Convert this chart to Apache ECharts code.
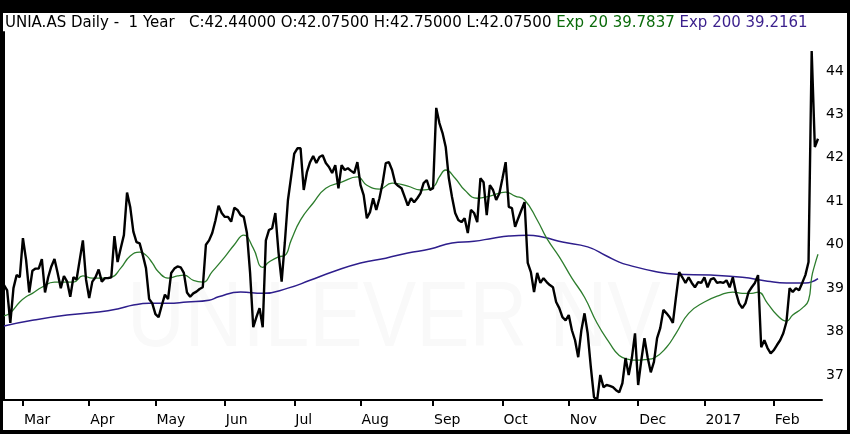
<!DOCTYPE html>
<html>
<head>
<meta charset="utf-8">
<script src="https://cdn.jsdelivr.net/npm/echarts@6/dist/echarts.min.js"></script>
<style>
  html, body { margin: 0; padding: 0; background: #000; }
  #main { position: absolute; left: 3px; top: 13px; width: 844px; height: 417px; background: #fff; }
</style>
</head>
<body>
<div id="main"></div>
<script>
// daily closes, Feb 22 2016 .. Feb 21 2017 (trading-day index)
var closes = [
  39.07, 38.95, 38.2, 39.0, 39.3, 39.25, 40.15, 39.65, 38.9, 39.4,
  39.45, 39.45, 39.67, 38.9, 39.25, 39.5, 39.67, 39.35, 39.0, 39.28,
  39.15, 38.8, 39.25, 39.2, 39.65, 40.1, 39.2, 38.77, 39.15, 39.25,
  39.43, 39.15, 39.23, 39.23, 39.25, 40.2, 39.6, 39.92, 40.22, 41.2,
  40.87, 40.3, 40.06, 40.03, 39.76, 39.46, 38.75, 38.65, 38.4, 38.33,
  38.6, 38.85, 38.75, 39.35, 39.45, 39.5, 39.48, 39.35, 38.9, 38.8,
  38.88, 38.92, 38.98, 39.02, 40.0, 40.1, 40.27, 40.55, 40.9, 40.73,
  40.64, 40.64, 40.53, 40.85, 40.8, 40.68, 40.64, 40.27, 39.35, 38.1,
  38.33, 38.54, 38.1, 40.1, 40.34, 40.38, 40.73, 39.83, 39.15, 40.04,
  41.03, 41.56, 42.1, 42.22, 42.22, 41.26, 41.67, 41.9, 42.04, 41.88,
  42.02, 42.06, 41.88, 41.79, 41.65, 41.83, 41.3, 41.83, 41.72, 41.76,
  41.7, 41.65, 41.9, 41.37, 41.14, 40.61, 40.75, 41.07, 40.8, 41.07,
  41.42, 41.88, 41.9, 41.72, 41.42, 41.35, 41.3, 41.1, 40.9, 41.07,
  40.98, 41.07, 41.18, 41.42, 41.49, 41.26, 41.3, 43.15, 42.8, 42.57,
  42.25, 41.53, 41.1, 40.73, 40.57, 40.52, 40.61, 40.27, 40.8, 40.73,
  40.52, 41.53, 41.44, 40.68, 41.37, 41.26, 41.03, 41.18, 41.53, 41.9,
  40.87, 40.84, 40.41, 40.61, 40.8, 40.98, 39.58, 39.37, 38.91, 39.35,
  39.12, 39.23, 39.14, 39.07, 39.02, 38.68, 38.54, 38.33, 38.26, 38.38,
  38.03, 37.8, 37.41, 38.03, 38.42, 37.96, 37.18, 36.49, 36.42, 37.0,
  36.72, 36.77, 36.75, 36.72, 36.65, 36.6, 36.81, 37.39, 37.0, 37.39,
  37.96, 36.77, 37.34, 37.85, 37.41, 37.06, 37.3, 37.85, 38.08, 38.5,
  38.42, 38.33, 38.2, 38.8, 39.37, 39.25, 39.12, 39.25, 39.12, 39.02,
  39.14, 39.12, 39.25, 39.02, 39.2, 39.23, 39.12, 39.14, 39.12, 39.18,
  39.02, 39.25, 38.9, 38.65, 38.54, 38.65, 38.91, 39.02, 39.12, 39.3,
  37.64, 37.8, 37.62, 37.5, 37.57, 37.69, 37.8, 37.96, 38.22, 39.0,
  38.91, 39.0, 38.95, 39.12, 39.3, 39.6, 44.46, 42.25, 42.44
];

// Exp 20 at these day indexes
var ema20Days = [0, 2, 5, 7, 9, 12, 16, 19, 22, 25, 28, 31, 34, 37, 40, 43, 45, 47, 49, 52,
  55, 57, 60, 63, 66, 70, 73, 76, 79, 82, 84, 87, 89, 91, 94, 98, 102, 107, 112, 115,
  119, 123, 128, 132, 136, 138, 140, 143, 146, 150, 154, 159, 162, 165, 169, 172, 176, 180, 184, 188,
  192, 195, 198, 200, 204, 206, 210, 213, 217, 222, 227, 231, 234, 237, 239, 242, 245, 248, 250, 253,
  255, 256, 257, 258];
var ema20 = [38.36, 38.43, 38.68, 38.8, 38.88, 39.02, 39.14, 39.14, 39.14, 39.28, 39.23, 39.23, 39.25, 39.46, 39.74, 39.83, 39.76, 39.58, 39.37, 39.23,
  39.28, 39.3, 39.18, 39.14, 39.38, 39.72, 40.0, 40.22, 39.92, 39.48, 39.6, 39.72, 39.75, 40.1, 40.57, 40.96, 41.3, 41.44, 41.56, 41.37,
  41.28, 41.42, 41.35, 41.26, 41.33, 41.56, 41.72, 41.53, 41.26, 41.07, 41.12, 41.21, 41.12, 41.03, 40.57, 40.15, 39.72, 39.23, 38.79, 38.19,
  37.73, 37.45, 37.36, 37.34, 37.36, 37.39, 37.64, 37.96, 38.42, 38.68, 38.84, 38.91, 38.88, 38.88, 38.91, 38.65, 38.38, 38.24, 38.38, 38.54,
  38.72, 39.25, 39.54, 39.78];

// Exp 200
var ema200Days = [0, 9, 20, 30, 36, 41, 46, 52, 58, 65, 68, 75, 82, 90, 97, 104, 113, 121, 128, 135,
  142, 149, 155, 160, 166, 171, 177, 185, 191, 195, 198, 206, 213, 224, 234, 242, 248, 254, 258];
var ema200 = [38.13, 38.26, 38.38, 38.45, 38.52, 38.61, 38.65, 38.65, 38.68, 38.72, 38.8, 38.91, 38.88, 39.0, 39.18, 39.37, 39.58, 39.69, 39.81, 39.9,
  40.04, 40.08, 40.15, 40.2, 40.22, 40.17, 40.06, 39.95, 39.74, 39.6, 39.53, 39.39, 39.32, 39.3, 39.25, 39.16, 39.12, 39.12, 39.22];

// month ticks on the time axis
var monthLabels = ['Mar', 'Apr', 'May', 'Jun', 'Jul', 'Aug', 'Sep', 'Oct', 'Nov', 'Dec', '2017', 'Feb'];
var monthStart = [6, 27, 48, 70, 92, 113, 136, 158, 179, 201, 222, 244];
var priceTicks = [37, 38, 39, 40, 41, 42, 43, 44];

var font = 'DejaVu Sans';
var myChart = echarts.init(document.getElementById('main'));

function pairs(xs, ys) {
  return xs.map(function (x, i) { return [x, ys[i]]; });
}

var option = {
  animation: false,
  title: {
    left: 2,
    top: 3,
    padding: 0,
    text: '{k|UNIA.AS Daily -  1 Year   C:42.44000 O:42.07500 H:42.75000 L:42.07500 }{g|Exp 20 39.7837 }{p|Exp 200 39.2161}',
    textStyle: {
      fontFamily: font,
      fontSize: 15,
      fontWeight: 'normal',
      rich: {
        k: { color: '#000', fontFamily: font, fontSize: 15 },
        g: { color: '#0b6b0b', fontFamily: font, fontSize: 15 },
        p: { color: '#3a1f8c', fontFamily: font, fontSize: 15 }
      }
    }
  },
  grid: { left: 0, right: 25, top: 19, bottom: 30 },
  graphic: [{
    type: 'text',
    left: 124,
    top: 262,
    z: 0,
    scaleX: 0.87,
    style: {
      text: 'UNILEVER NV',
      fontFamily: 'Liberation Sans',
      fontSize: 92,
      fill: '#f9f9f9'
    }
  }],
  xAxis: {
    type: 'value',
    min: -0.317,
    max: 259.27,
    splitLine: { show: false },
    axisLine: { lineStyle: { color: '#000', width: 2 } },
    axisTick: {
      customValues: monthStart,
      length: 6,
      lineStyle: { color: '#000', width: 2 }
    },
    axisLabel: {
      customValues: monthStart,
      align: 'left',
      margin: 13,
      padding: [0, 0, 0, 1],
      color: '#000',
      fontFamily: font,
      fontSize: 14,
      formatter: function (v) {
        var k = monthStart.indexOf(Math.round(v));
        return k < 0 ? '' : monthLabels[k];
      }
    }
  },
  yAxis: {
    type: 'value',
    position: 'right',
    min: 36.424,
    max: 44.898,
    splitLine: { show: false },
    axisLine: { show: true, lineStyle: { color: '#000', width: 2 } },
    axisTick: { show: false },
    axisLabel: {
      customValues: priceTicks,
      margin: 4,
      color: '#000',
      fontFamily: font,
      fontSize: 14
    }
  },
  series: [
    {
      name: 'Exp 200',
      type: 'line',
      data: pairs(ema200Days, ema200),
      smooth: true,
      showSymbol: false,
      lineStyle: { color: '#2e1e8c', width: 1.5 }
    },
    {
      name: 'Exp 20',
      type: 'line',
      data: pairs(ema20Days, ema20),
      smooth: true,
      showSymbol: false,
      lineStyle: { color: '#2d7d2d', width: 1.3 }
    },
    {
      name: 'UNIA.AS',
      type: 'line',
      data: closes.map(function (v, i) { return [i, v]; }),
      showSymbol: false,
      lineStyle: { color: '#000', width: 2.4 }
    }
  ]
};

myChart.setOption(option);
</script>
</body>
</html>
